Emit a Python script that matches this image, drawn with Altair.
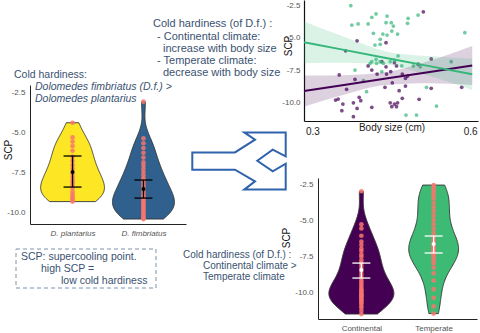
import altair as alt
import numpy as np
import pandas as pd

# ---------------- data ----------------
species = ["D. plantarius", "D. fimbriatus"]
plantarius_scp = [-4.42, -5.33, -5.6, -5.88, -6.17, -6.54, -6.8, -7.06, -7.3, -7.58, -7.8,
                  -8.0, -8.15, -8.31, -8.5, -8.73, -8.9, -9.04, -9.15, -9.25, -9.35]
fimbriatus_scp = [-3.1, -5.4, -5.7, -6.0, -6.3, -6.6, -6.9, -7.1, -7.3, -7.5, -7.7, -7.9, -8.0,
                  -8.15, -8.3, -8.45, -8.6, -8.75, -8.9, -9.0, -9.1, -9.2, -9.3, -9.4, -9.5,
                  -9.6, -9.7, -9.8, -9.9, -10.0, -10.1, -10.2, -10.3, -10.4, -10.44]
species_mean = [-7.50, -8.56]
species_ci_low = [-8.44, -9.13]
species_ci_high = [-6.50, -8.00]

climates = ["Continental", "Temperate"]
continental_scp = [-3.0, -5.3, -5.58, -6.09, -6.5, -6.74, -7.0, -7.15, -7.4, -7.55, -7.8, -8.0,
                   -8.2, -8.4, -8.6, -8.8, -9.0, -9.2, -9.35, -9.5, -9.65, -9.8, -9.9, -10.0,
                   -10.1, -10.2, -10.25, -10.3, -10.4, -10.5, -10.6, -10.7, -10.8, -10.95, -11.1,
                   -11.3, -11.53]
temperate_scp = [-2.57, -2.7, -2.9, -3.1, -3.3, -3.5, -3.8, -4.1, -4.4, -4.7, -5.0, -5.3, -5.6,
                 -5.9, -6.2, -6.4, -6.6, -6.75, -6.85, -6.95, -7.05, -7.15, -7.25, -7.35, -7.45,
                 -7.6, -7.8, -8.0, -8.3, -8.7, -9.2, -9.8, -10.4, -11.0, -11.5]
climate_mean = [-8.47, -6.67]
climate_ci_low = [-9.03, -7.29]
climate_ci_high = [-7.99, -6.11]

continental_body = [0.385, 0.363, 0.406, 0.413, 0.432, 0.440, 0.351, 0.381, 0.423, 0.365, 0.344,
                    0.349, 0.358, 0.356, 0.378, 0.385, 0.389, 0.392, 0.413, 0.378, 0.511, 0.440,
                    0.456, 0.460, 0.449, 0.441, 0.471, 0.481, 0.477, 0.501, 0.526, 0.452, 0.477,
                    0.438, 0.526, 0.584, 0.465, 0.448, 0.456, 0.462, 0.471, 0.451, 0.460, 0.503]
continental_body_scp = [-5.25, -6.02, -7.19, -7.50, -6.86, -7.25, -7.88, -8.22, -7.81, -8.98, -9.81,
                        -9.73, -10.12, -10.63, -10.02, -10.45, -9.60, -9.86, -10.37, -11.09, -3.02, -5.40,
                        -6.94, -7.19, -7.63, -7.81, -7.81, -7.96, -8.14, -7.04, -6.65, -8.48, -8.73,
                        -8.83, -8.91, -8.83, -9.09, -10.02, -10.12, -10.02, -9.68, -10.32, -10.32, -9.75]
temperate_body = [0.373, 0.413, 0.421, 0.375, 0.387, 0.406, 0.442, 0.440, 0.416, 0.434, 0.442,
                  0.429, 0.419, 0.429, 0.421, 0.413, 0.410, 0.422, 0.429, 0.435, 0.381, 0.397,
                  0.403, 0.432, 0.482, 0.501, 0.481, 0.450, 0.454, 0.451, 0.462, 0.590, 0.463,
                  0.448, 0.456, 0.470, 0.492, 0.505, 0.564, 0.517, 0.536, 0.478, 0.498]
temperate_body_scp = [-2.55, -3.45, -3.19, -4.04, -3.96, -3.96, -3.35, -3.86, -4.68, -4.73, -4.81,
                      -5.14, -5.58, -5.52, -6.68, -6.86, -6.98, -6.98, -6.86, -6.98, -7.50, -8.32,
                      -9.17, -7.63, -3.52, -3.27, -3.91, -3.86, -4.12, -4.50, -4.73, -4.63, -6.42,
                      -6.86, -6.73, -7.19, -7.19, -7.25, -6.86, -8.83, -10.27, -10.96, -10.96]

fit_body = [0.284, 0.36, 0.44, 0.52, 0.604]
continental_fit = [-9.12, -8.65, -8.16, -7.67, -7.15]
continental_fit_low = [-10.32, -9.40, -8.66, -8.52, -8.65]
continental_fit_high = [-7.92, -7.90, -7.66, -6.82, -5.65]
temperate_fit = [-5.37, -5.95, -6.57, -7.18, -7.83]
temperate_fit_low = [-6.97, -6.95, -7.07, -7.93, -9.03]
temperate_fit_high = [-3.77, -4.95, -6.07, -6.43, -6.63]

# ---------------- style ----------------
FONT = "Liberation Sans"
TXT = "#3a5272"
PURPLE = "#440154"
GREEN = "#35B779"
MINUS_FIX = "replace(datum.label, '\u2212', '-')"


def violin_table(groups, samples):
    dens = []
    for g, vals in zip(groups, samples):
        v = np.asarray(vals, float)
        n = len(v)
        sd = v.std(ddof=1)
        q75, q25 = np.percentile(v, [75, 25])
        bw = 0.9 * min(sd, (q75 - q25) / 1.34) * n ** -0.2
        grid = np.linspace(v.min(), v.max(), 120)
        d = np.exp(-0.5 * ((grid[:, None] - v[None, :]) / bw) ** 2).sum(1) / (n * bw * np.sqrt(2 * np.pi))
        dens.append((g, grid, d))
    dmax = max(d.max() for _, _, d in dens)
    rows = []
    for i, (g, grid, d) in enumerate(dens):
        w = 0.45 * d / dmax
        for y, wi in zip(grid, w):
            rows.append({"grp": g, "scp": float(y), "lo": i + 1 - float(wi), "hi": i + 1 + float(wi)})
    return pd.DataFrame(rows)


def y_axis(offset, color="#222222", width=1, pad=5):
    return alt.Axis(orient="left", offset=offset, values=[-10, -7.5, -5, -2.5], format=".1f",
                    labelExpr=MINUS_FIX, title=None, grid=False, ticks=False, tickSize=0,
                    domainColor=color, domainWidth=width, labelColor="#555555", labelFontSize=8,
                    labelFont=FONT, labelPadding=pad, labelFlush=False)


def violin_panel(groups, samples, means, lows, highs, fills, bar_color, xsc, ysc, yoff, xoff, italic):
    vt = violin_table(groups, samples)
    pts = pd.DataFrame([{"grp": g, "pos": i + 1, "scp": s}
                        for i, (g, vals) in enumerate(zip(groups, samples)) for s in vals])
    summ = pd.DataFrame({"grp": groups, "pos": [1, 2], "mean": means, "low": lows, "high": highs})
    xax = alt.Axis(orient="bottom", offset=xoff, values=[1, 2],
                   labelExpr=f"datum.value == 1 ? '{groups[0]}' : '{groups[1]}'",
                   title=None, grid=False, ticks=False, tickSize=0, domainColor="#222222",
                   domainWidth=1, labelColor="#555555", labelFontSize=8, labelFont=FONT,
                   labelFontStyle="italic" if italic else "normal", labelPadding=5, labelFlush=False)
    yax = y_axis(yoff)

    def X(f, **kw):
        return alt.X(f, type="quantitative", scale=xsc, axis=xax, **kw)

    def Y(f):
        return alt.Y(f, type="quantitative", scale=ysc, axis=yax)

    area = alt.Chart(vt).mark_area(orient="horizontal", stroke="#333333", strokeWidth=0.9,
                                   opacity=1).encode(
        y=Y("scp"), x=X("lo", stack=None), x2="hi",
        color=alt.Color("grp:N", scale=alt.Scale(domain=groups, range=fills), legend=None))
    points = alt.Chart(pts).mark_circle(size=22, color="#F8766D", opacity=0.85).encode(
        x=X("pos"), y=Y("scp"))
    bars = alt.Chart(summ).mark_rule(color=bar_color, strokeWidth=1.3).encode(
        x=X("pos"), y=Y("low"), y2="high")
    caps = alt.Chart(summ).transform_fold(["low", "high"], as_=["k", "v"]).mark_tick(
        orient="horizontal", size=18, thickness=1.3, color=bar_color, opacity=1).encode(
        x=X("pos"), y=Y("v"))
    mean = alt.Chart(summ).mark_circle(size=16, color=bar_color, opacity=1).encode(
        x=X("pos"), y=Y("mean"))
    return alt.layer(area, points, bars, caps, mean)


H = 333
left_panel = violin_panel(
    species, [plantarius_scp, fimbriatus_scp], species_mean, species_ci_low, species_ci_high,
    ["#FDE725", "#30608D"], "#000000",
    alt.Scale(domain=[0.4, 2.6], range=[30, 186], nice=False, zero=False),
    alt.Scale(domain=[-10.75, -2.06], range=[224, 85], nice=False, zero=False),
    -30, 224 - H, True)

br_panel = violin_panel(
    climates, [continental_scp, temperate_scp], climate_mean, climate_ci_low, climate_ci_high,
    [PURPLE, "#3DBB74"], "#FFFFFF",
    alt.Scale(domain=[0.4, 2.6], range=[318, 477], nice=False, zero=False),
    alt.Scale(domain=[-11.875, -2.08], range=[319, 178], nice=False, zero=False),
    -318, 319 - H, False)

# ---------------- scatter panel ----------------
sc_pts = pd.DataFrame({
    "climate": ["Continental"] * len(continental_body) + ["Temperate"] * len(temperate_body),
    "body": continental_body + temperate_body,
    "scp": continental_body_scp + temperate_body_scp,
})
sc_fit = pd.DataFrame({
    "climate": ["Continental"] * len(fit_body) + ["Temperate"] * len(fit_body),
    "body": fit_body + fit_body,
    "fit": continental_fit + temperate_fit,
    "low": continental_fit_low + temperate_fit_low,
    "high": continental_fit_high + temperate_fit_high,
})
sx = alt.Scale(domain=[0.284, 0.615], range=[304, 478], nice=False, zero=False)
sy = alt.Scale(domain=[-11.42, -2.115], range=[121, 0], nice=False, zero=False)
sxa = alt.Axis(orient="bottom", offset=121 - H, values=[0.3, 0.6], format=".1f", title=None,
               grid=False, ticks=False, tickSize=0, domainColor="#111111", domainWidth=1.2,
               labelColor="#222222", labelFontSize=10, labelFont=FONT, labelPadding=5,
               labelFlush=False)
sya = y_axis(-304, color="#111111", width=1.2, pad=4)
ccol = alt.Color("climate:N", scale=alt.Scale(domain=climates, range=[PURPLE, GREEN]), legend=None)


def SX(f):
    return alt.X(f, type="quantitative", scale=sx, axis=sxa)


def SY(f):
    return alt.Y(f, type="quantitative", scale=sy, axis=sya)


sc_points = alt.Chart(sc_pts).mark_circle(size=14, opacity=0.7).encode(
    x=SX("body"), y=SY("scp"), color=ccol)
sc_band = alt.Chart(sc_fit).mark_area(opacity=0.18, interpolate="monotone").encode(
    x=SX("body"), y=SY("low"), y2="high", color=ccol)
sc_line = alt.Chart(sc_fit).mark_line(strokeWidth=2).encode(
    x=SX("body"), y=SY("fit"), color=ccol)
scatter_panel = alt.layer(sc_points, sc_band, sc_line)


# ---------------- annotations ----------------
def txt(s, x, y, size=10.5, color=TXT, style="normal", align="left", angle=0):
    return alt.Chart(pd.DataFrame({"t": [s]})).mark_text(
        align=align, baseline="middle", fontSize=size, font=FONT, color=color,
        fontStyle=style, angle=angle).encode(x=alt.value(x), y=alt.value(y), text="t:N")


annotations = [
    txt("Cold hardiness:", 14, 75),
    txt("Dolomedes fimbriatus (D.f.) >", 35, 87, style="italic"),
    txt("Dolomedes plantarius", 35, 99, style="italic"),
    txt("Cold hardiness (of D.f.) :", 153, 24, size=11),
    txt("- Continental climate:", 157, 37, size=11),
    txt("increase with body size", 163, 49, size=11),
    txt("- Temperate climate:", 157, 61, size=11),
    txt("decrease with body size", 163, 73, size=11),
    txt("SCP: supercooling point.", 21, 257),
    txt("high SCP =", 41, 269),
    txt("low cold hardiness", 61, 281),
    txt("Cold hardiness (of D.f.) :", 183, 255, size=10),
    txt("Continental climate >", 203, 266, size=10),
    txt("Temperate climate", 203, 277, size=10),
    txt("SCP", 9, 150, size=10, color="#111111", align="center", angle=270),
    txt("SCP", 289, 46, size=10, color="#111111", align="center", angle=270),
    txt("SCP", 287, 238, size=10, color="#111111", align="center", angle=270),
    txt("Body size (cm)", 392, 128, size=10, color="#222222", align="center"),
]

box = alt.Chart(pd.DataFrame({"k": [0]})).mark_rect(
    fillOpacity=0, stroke="#7d93ab", strokeWidth=1, strokeDash=[4, 3]).encode(
    x=alt.value(16), x2=alt.value(156), y=alt.value(249), y2=alt.value(288))

ARROW = ("M-1,-0.184 L-0.086,-0.184 L0.343,-0.456 L0.113,-0.612 L1,-0.612 L1,-0.098 "
         "L0.722,-0.242 L0.392,-0.006 L0.722,0.223 L1,0.058 L1,0.612 L0.113,0.612 "
         "L0.343,0.437 L-0.086,0.186 L-1,0.186 Z")
arrow = alt.Chart(pd.DataFrame({"k": [0]})).mark_point(
    shape=ARROW, size=8724, filled=False, color="#2f63ad", strokeWidth=2, opacity=1).encode(
    x=alt.value(239), y=alt.value(161))

chart = alt.layer(
    left_panel, scatter_panel, br_panel, box, arrow, *annotations
).resolve_scale(
    x="independent", y="independent", color="independent"
).properties(
    width=480, height=H, autosize=alt.AutoSizeParams(type="none"), padding=0
).configure_view(stroke=None)

chart.save("out.html", embed_options={"renderer": "svg", "actions": False})
